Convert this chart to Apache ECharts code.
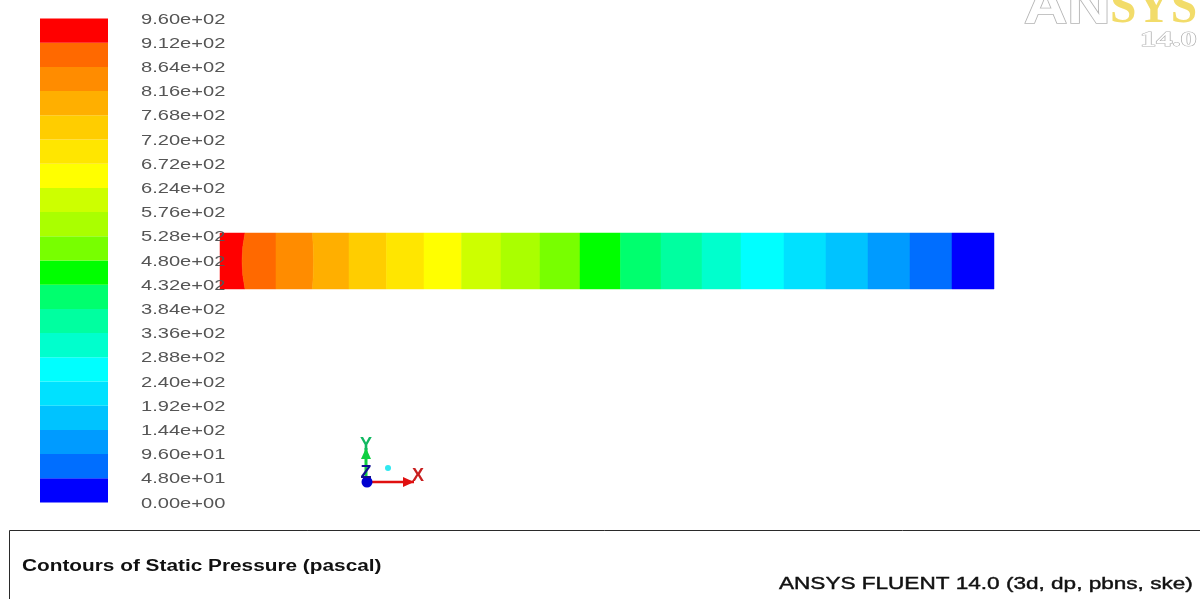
<!DOCTYPE html>
<html>
<head>
<meta charset="utf-8">
<style>html,body{margin:0;padding:0;background:#fff}#c{width:1200px;height:599px}</style>
<script src="https://cdn.jsdelivr.net/npm/echarts@6/dist/echarts.min.js"></script>
</head>
<body>
<div id="c"></div>
<script>
const bandColors = ['#0000ff','#006eff','#009bff','#00c3ff','#00e1ff','#00ffff','#00ffcd','#00ffa0','#00ff6e','#00ff00','#78ff00','#aaff00','#cdff00','#ffff00','#ffe600','#ffcd00','#ffaf00','#ff8c00','#ff6900','#ff0000'];
const levels = [0,48,96,144,192,240,288,336,384,432,480,528,576,624,672,720,768,816,864,912,960];
const levelLabels = ['0.00e+00','4.80e+01','9.60e+01','1.44e+02','1.92e+02','2.40e+02','2.88e+02','3.36e+02','3.84e+02','4.32e+02','4.80e+02','5.28e+02','5.76e+02','6.24e+02','6.72e+02','7.20e+02','7.68e+02','8.16e+02','8.64e+02','9.12e+02','9.60e+02'];
// Pipe position (arbitrary length units along the axis) of each contour edge, high pressure at inlet
const pipeEdges = [0,25,56,92.5,129,166.5,204,241.5,281,320,360,400.5,441,482,521,564,606,648,690,732,774];
const pipeEdgeBow = [0,-3,0,1,0,0,0,0,0,0,0,0,0,0,0,0,0,0,0,0,0];
const pipeColors = bandColors.slice().reverse();
const titleText = 'Contours of Static Pressure (pascal)';
const solverText = 'ANSYS FLUENT 14.0 (3d, dp, pbns, ske)';

const legendData = bandColors.map((c,i)=>[levels[i],levels[i+1],i]);
const labelData = levelLabels.map((t,i)=>[levels[i],i]);
const pipeData = pipeColors.map((c,i)=>[pipeEdges[i],pipeEdges[i+1],i]);

const chart = echarts.init(document.getElementById('c'));
const sans = '"Liberation Sans"';
const serif = '"Liberation Serif"';

function arrow(x1,y1,x2,y2,color,lw){
  const a=Math.atan2(y2-y1,x2-x1),s=11,w=5;
  return [
    {type:'line',shape:{x1,y1,x2,y2},style:{stroke:color,lineWidth:lw}},
    {type:'polygon',shape:{points:[[x2,y2],[x2-s*Math.cos(a)-w*Math.sin(a),y2-s*Math.sin(a)+w*Math.cos(a)],[x2-s*Math.cos(a)+w*Math.sin(a),y2-s*Math.sin(a)-w*Math.cos(a)]]},style:{fill:color}}
  ];
}
const bowT = [[0,0],[0.75,0.25],[1,0.5],[0.75,0.75],[0,1]];

chart.setOption({
  animation:false,
  backgroundColor:'#ffffff',
  grid:[
    {left:40,top:18.5,width:68,height:484},
    {left:220,top:233,width:774,height:56}
  ],
  xAxis:[
    {gridIndex:0,type:'value',min:0,max:1,show:false},
    {gridIndex:1,type:'value',min:0,max:774,show:false}
  ],
  yAxis:[
    {gridIndex:0,type:'value',min:0,max:960,interval:48,show:false},
    {gridIndex:1,type:'value',min:0,max:1,show:false}
  ],
  series:[
    {type:'custom',xAxisIndex:0,yAxisIndex:0,silent:true,z:2,data:legendData,
      renderItem(p,api){
        const a=api.coord([0,api.value(0)]),b=api.coord([1,api.value(1)]);
        return {type:'rect',shape:{x:a[0],y:b[1],width:b[0]-a[0],height:a[1]-b[1]},style:{fill:bandColors[api.value(2)]}};
      }},
    {type:'custom',xAxisIndex:1,yAxisIndex:1,silent:true,z:3,data:pipeData,
      renderItem(p,api){
        const i=api.value(2);
        const s=api.value(0),e=api.value(1);
        const bs=pipeEdgeBow[i],be=pipeEdgeBow[i+1];
        const right=bowT.map(t=>[e+be*t[0],t[1]]);
        const left=bowT.map(t=>[s+bs*t[0],t[1]]).reverse();
        const pts=right.concat(left).map(d=>api.coord(d));
        return {type:'polygon',shape:{points:pts},style:{fill:pipeColors[i],stroke:pipeColors[i],lineWidth:0.5}};
      }},
    {type:'custom',xAxisIndex:0,yAxisIndex:0,silent:true,z:5,data:labelData,
      renderItem(p,api){
        const pt=api.coord([0,api.value(0)]);
        return {type:'text',x:141,y:pt[1]+1,scaleX:1.34,
          style:{text:levelLabels[api.value(1)],fill:'#555555',font:'15px '+sans,align:'left',verticalAlign:'middle'}};
      }}
  ],
  graphic:[
    {type:'polyline',shape:{points:[[9.5,600],[9.5,530.5],[1200,530.5]]},style:{stroke:'#2a2a2a',lineWidth:1,fill:null}},
    {type:'text',x:22,y:567,scaleX:1.30,style:{text:titleText,fill:'#111',font:'bold 16px '+sans,align:'left',verticalAlign:'middle'}},
    {type:'text',x:779,y:585,scaleX:1.41,style:{text:solverText,fill:'#111',font:'16px '+sans,align:'left',verticalAlign:'middle',stroke:'#111',lineWidth:0.4}},
    // triad
    ...arrow(367,482,414,482,'#e01010',2.5),
    ...arrow(366,482,366,448,'#10d040',3),
    {type:'circle',shape:{cx:367,cy:482,r:5.5},style:{fill:'#0000d0'}},
    {type:'circle',shape:{cx:388,cy:468,r:3},style:{fill:'#30e8f0'}},
    {type:'text',x:366,y:445,style:{text:'Y',fill:'#10b860',font:'bold 18px '+sans,align:'center',verticalAlign:'middle'}},
    {type:'text',x:366,y:473,style:{text:'Z',fill:'#101090',font:'bold 18px '+sans,align:'center',verticalAlign:'middle'}},
    {type:'text',x:418,y:476,style:{text:'X',fill:'#c82020',font:'bold 18px '+sans,align:'center',verticalAlign:'middle'}},
    // logo
    {type:'text',x:1024,y:34,scaleX:1.2,style:{text:'AN',fill:'#ffffff',stroke:'#b4b4b4',lineWidth:1.5,font:'bold 50px '+sans,align:'left',verticalAlign:'bottom'}},
    {type:'text',x:1110,y:34,scaleX:0.95,style:{text:'SYS',fill:'#f2dc6a',font:'bold 50px '+serif,align:'left',verticalAlign:'bottom'}},
    {type:'text',x:1140,y:41,scaleX:1.62,style:{text:'14.0',fill:'#ffffff',stroke:'#b0b0b0',lineWidth:1,font:'bold 20px '+serif,align:'left',verticalAlign:'middle'}}
  ]
});
</script>
</body>
</html>
